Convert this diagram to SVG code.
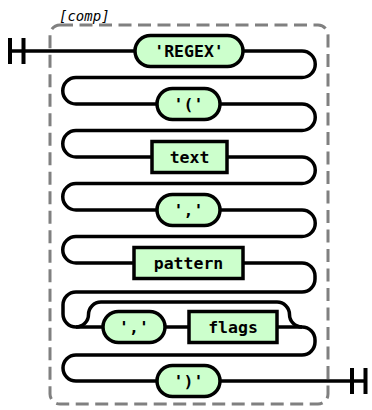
<svg xmlns="http://www.w3.org/2000/svg" width="372" height="410" viewBox="0 0 372 410">
<style>
.line{fill:none;stroke:#000;stroke-width:3.5}
.term rect{fill:#ccffcc;stroke:#000;stroke-width:3.5}
.nt rect{fill:#ccffcc;stroke:#000;stroke-width:3.5}
text.lbl{font-family:"DejaVu Sans Mono","Liberation Mono",monospace;font-weight:bold;font-size:16.5px;text-anchor:middle;fill:#000}
.grp{fill:none;stroke:#808080;stroke-width:3;stroke-dasharray:13 6.5}
.glabel{font-family:"DejaVu Sans Mono","Liberation Mono",monospace;font-style:italic;font-size:14px;fill:#000}
</style>
<rect width="372" height="410" fill="#fff"/>
<g id="group-comp">
<rect class="grp" x="50" y="25" width="278" height="379" rx="10"/>
<text class="glabel" x="59" y="21">[comp]</text>
</g>
<g id="connectors">
<path class="line" d="M10 51 H302 a13.25 13.25 0 0 1 0 26.5 H76 a13.25 13.25 0 0 0 0 26.5 H302 a13.25 13.25 0 0 1 0 26.5 H76 a13.25 13.25 0 0 0 0 26.5 H302 a13.25 13.25 0 0 1 0 26.5 H76 a13.25 13.25 0 0 0 0 26.5 H302 a13.25 13.25 0 0 1 0 26.5 H76 a13.25 13.25 0 0 0 0 26.5 H302 a13 13 0 0 1 13 13 V279 a13 13 0 0 1 -13 13 H76 a13 13 0 0 0 -13 13 V314 a13 13 0 0 0 13 13 H302 a13 13 0 0 1 13 13 V342 a13 13 0 0 1 -13 13 H76 a13 13 0 0 0 0 26 H365.5"/>
<path class="line" d="M76 327 a12.5 12.5 0 0 0 12.5 -12.5 a12.5 12.5 0 0 1 12.5 -12.5 H277 a12.5 12.5 0 0 1 12.5 12.5 a12.5 12.5 0 0 0 12.5 12.5"/>
<path class="line" style="stroke-width:4" d="M10 38 V64 M23.5 38 V64 M352 368 V394 M365.5 368 V394"/>
</g>
<g id="t-regex" class="term"><rect x="135" y="35.5" width="108" height="31" rx="15.5"/><text class="lbl" x="189" y="57">'REGEX'</text></g>
<g id="t-lparen" class="term"><rect x="157" y="88.5" width="63" height="31" rx="15.5"/><text class="lbl" x="188.5" y="110">'('</text></g>
<g id="n-text" class="nt"><rect x="152" y="141.5" width="75" height="31"/><text class="lbl" x="189.5" y="163">text</text></g>
<g id="t-comma1" class="term"><rect x="157" y="194.5" width="63" height="31" rx="15.5"/><text class="lbl" x="188.5" y="216">','</text></g>
<g id="n-pattern" class="nt"><rect x="134" y="247.5" width="109" height="31"/><text class="lbl" x="188.5" y="269">pattern</text></g>
<g id="t-comma2" class="term"><rect x="103" y="311.5" width="62" height="31" rx="15.5"/><text class="lbl" x="134" y="333">','</text></g>
<g id="n-flags" class="nt"><rect x="189" y="311.5" width="88" height="31"/><text class="lbl" x="233" y="333">flags</text></g>
<g id="t-rparen" class="term"><rect x="157" y="365.5" width="63" height="31" rx="15.5"/><text class="lbl" x="188.5" y="387">')'</text></g>
</svg>
